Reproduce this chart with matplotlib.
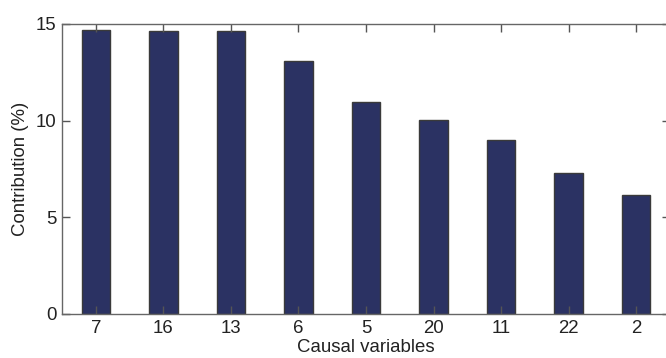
import matplotlib
matplotlib.use("Agg")
import matplotlib.pyplot as plt

categories = ["7", "16", "13", "6", "5", "20", "11", "22", "2"]
values = [14.69, 14.62, 14.62, 13.07, 10.95, 10.02, 9.0, 7.27, 6.16]
yticks = [0, 5, 10, 15]

plt.rcParams['font.family'] = ['Liberation Sans', 'DejaVu Sans']

fig = plt.figure(figsize=(6.66, 3.58), dpi=100)
ax = fig.add_axes([62/666, 44/358, 608/666, 290/358])
x = list(range(1, len(categories) + 1))
ax.bar(x, values, width=0.42, color="#2b3263", edgecolor="#3a3a3a", linewidth=1.0)
ax.set_xlim(0.5, len(categories) + 0.5)
ax.set_ylim(0, 15)
ax.set_xticks(x)
ax.set_xticklabels(categories)
ax.set_yticks(yticks)
ax.tick_params(direction="in", top=True, right=True, labelsize=13.4, colors="#555555",
               labelcolor="#222222", length=5.5, width=1, pad=4)
for s in ax.spines.values():
    s.set_color("#666666")
    s.set_linewidth(1.0)
ax.set_xlabel("Causal variables", fontsize=13.4, color="#222222", labelpad=2)
ax.set_ylabel("Contribution (%)", fontsize=13.4, color="#222222", labelpad=5)
fig.savefig("out.png", dpi=100)
